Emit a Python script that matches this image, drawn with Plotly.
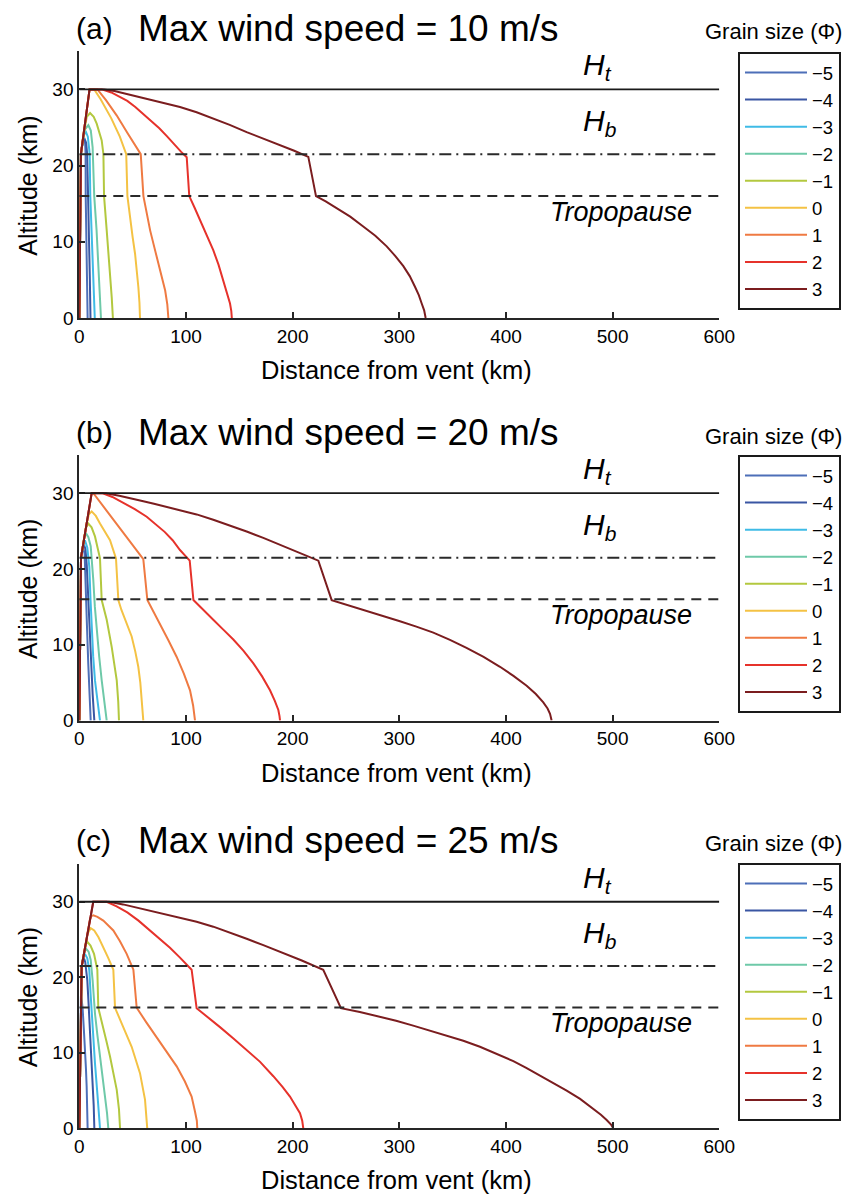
import plotly.graph_objects as go

# ---------------- data ----------------
GRAIN_SIZES = ["\u22125", "\u22124", "\u22123", "\u22122", "\u22121", "0", "1", "2", "3"]
COLORS = ["#4d6fb8", "#3a56a3", "#3fbbe6", "#6ec9a8", "#b3c83f", "#f4c244", "#ef7a42", "#e6322b", "#7b1d1f"]
PANEL_LABELS = ["(a)", "(b)", "(c)"]
WIND_SPEEDS = [10, 20, 25]
H_T = 30.0          # top of umbrella cloud (km)
H_B = 21.5          # bottom of umbrella cloud (km)
TROPOPAUSE = 16.0   # km
X_TICKS = [0, 100, 200, 300, 400, 500, 600]
Y_TICKS = [0, 10, 20, 30]

# Panel (a): max wind speed 10 m/s  -- one list per grain size
A_X = [
    [0, 0.5, 1.0, 1.5, 2.4, 3.4, 4.4, 5.5, 5.9, 6.0, 6.9, 7.4, 7.8],
    [0, 0.5, 1.0, 1.5, 2.5, 3.6, 5.0, 6.4, 7.4, 8.0, 9.1, 9.9, 10.5],
    [0, 0.5, 1.0, 1.5, 3.0, 4.5, 6.3, 8.0, 9.4, 9.8, 10.3, 12.0, 13.5, 14.5],
    [0, 0.5, 1.0, 1.5, 3.5, 5.5, 8.5, 10.8, 12.5, 13.3, 14.0, 16.2, 17.5, 18.7, 20.3],
    [0, 0.5, 1.0, 1.5, 4.5, 7.0, 10.1, 13.5, 16.3, 19.0, 21.0, 22.6, 23.2, 25.7, 28.2, 30.4, 31.5],
    [0, 0.5, 1.0, 1.5, 9.6, 14.0, 20.0, 30.0, 38.0, 44.0, 45.1, 47.6, 50.0, 52.3, 54.0, 55.4, 56.4, 56.9],
    [0, 0.5, 1.0, 1.5, 9.6, 17.0, 25.0, 35.0, 45.0, 52.0, 57.6, 60.1, 63.0, 66.4, 70.3, 74.2, 77.5, 80.5,
     82.5, 83.5],
    [0, 0.5, 1.0, 1.5, 9.6, 21.0, 30.0, 37.5, 45.0, 52.5, 60.0, 67.5, 75.0, 82.5, 90.0, 95.5, 100.7, 103.1,
     108.0, 113.2, 119.5, 125.6, 130.5, 135.0, 138.5, 141.3, 142.5, 143.0],
    [0, 0.5, 1.0, 1.5, 9.6, 23.0, 33.0, 44.4, 57.0, 70.0, 82.0, 94.4, 110.0, 125.6, 141.0, 156.9, 172.5,
     188.2, 201.5, 214.7, 221.9, 231.0, 241.3, 254.0, 266.2, 277.5, 288.2, 296.5, 303.8, 309.8, 314.7,
     318.3, 321.0, 323.3, 324.7],
]
A_Y = [
    [0, 8, 16, 21.5, 22.4, 23.1, 23.3, 22.9, 21.5, 16, 10, 5, 0],
    [0, 8, 16, 21.5, 22.5, 23.3, 23.5, 23.0, 21.5, 16, 10, 5, 0],
    [0, 8, 16, 21.5, 23.0, 24.1, 24.4, 23.8, 22.0, 21.0, 16, 10, 5, 0],
    [0, 8, 16, 21.5, 23.5, 24.8, 25.3, 24.6, 22.4, 19.0, 16.0, 11.5, 8.0, 4.9, 0],
    [0, 8, 16, 21.5, 24.5, 26.4, 26.9, 26.4, 25.5, 24.3, 23.3, 21.5, 16, 11.5, 7.1, 2.7, 0],
    [0, 8, 16, 21.5, 30, 30, 28.7, 26.2, 23.8, 21.5, 16, 12.8, 10.6, 8.4, 6.2, 4.0, 2.0, 0],
    [0, 8, 16, 21.5, 30, 30, 28.6, 26.6, 24.3, 22.8, 21.5, 16, 13.8, 11.5, 9.3, 7.1, 5.3, 3.6, 1.8, 0],
    [0, 8, 16, 21.5, 30, 30, 29.6, 29.1, 28.5, 27.7, 26.8, 25.9, 24.9, 23.8, 22.6, 21.8, 21.1, 16,
     14.5, 12.8, 10.9, 8.9, 7.0, 4.95, 3.3, 1.9, 0.9, 0],
    [0, 8, 16, 21.5, 30, 30, 29.8, 29.4, 29.0, 28.55, 28.15, 27.7, 27.0, 26.2, 25.35, 24.4, 23.55,
     22.7, 21.95, 21.15, 16, 15.3, 14.4, 13.3, 12.0, 10.8, 9.4, 8.1, 6.8, 5.5, 4.1,
     3.0, 1.9, 1.0, 0],
]

# Panel (b): max wind speed 20 m/s
B_X = [
    [0, 0.5, 1.0, 1.6, 2.4, 3.75, 5.0, 5.6, 6.3, 7.3, 8.4, 9.6, 10.7],
    [0, 0.5, 1.0, 1.6, 2.6, 3.4, 4.4, 5.8, 7.0, 8.4, 9.5, 10.7, 12.5, 14.1],
    [0, 0.5, 1.0, 1.6, 3.0, 5.3, 7.5, 9.4, 10.5, 11.6, 13.0, 14.7, 17.0, 19.4],
    [0, 0.5, 1.0, 1.6, 3.4, 4.6, 6.3, 8.5, 10.7, 12.0, 13.1, 14.6, 16.3, 18.6, 21.0, 23.5, 25.7],
    [0, 0.5, 1.0, 1.6, 4.5, 6.2, 8.4, 11.5, 14.7, 17.5, 19.4, 21.0, 25.7, 30.4, 35.1, 36.5, 37.2],
    [0, 0.5, 1.0, 1.6, 6.5, 9.0, 11.6, 15.5, 19.4, 24.0, 28.8, 34.4, 36.6, 39.5, 42.8, 46.0, 49.1, 52.5,
     55.3, 57.2, 58.5, 59.5, 60.0],
    [0, 0.5, 1.0, 1.6, 11.6, 13.2, 25.0, 37.0, 48.0, 60.0, 63.8, 69.5, 75.6, 83.5, 91.3, 98.0, 103.8,
     106.7, 108.5],
    [0, 0.5, 1.0, 1.6, 11.6, 22.0, 31.0, 40.0, 52.0, 63.2, 72.0, 80.0, 87.5, 94.4, 99.0, 103.5, 107.0,
     116.0, 125.6, 135.0, 144.4, 154.0, 163.2, 171.5, 178.8, 183.3, 186.6, 187.7, 188.2],
    [0, 0.5, 1.0, 1.6, 11.6, 25.0, 37.5, 50.0, 60.0, 70.0, 82.0, 94.4, 110.0, 125.6, 141.0, 156.9, 172.5,
     188.1, 206.0, 224.1, 236.6, 253.0, 269.4, 285.0, 300.6, 316.0, 331.9, 347.5, 363.0, 379.0, 394.4,
     407.0, 419.4, 428.0, 435.0, 439.0, 441.3, 442.8],
]
B_Y = [
    [0, 8, 16, 21.5, 22.2, 22.7, 22.0, 20.0, 16.3, 12, 7.55, 3.5, 0],
    [0, 8, 16, 21.5, 22.4, 23.0, 23.2, 22.6, 20.5, 16.3, 12, 7.55, 3.5, 0],
    [0, 8, 16, 21.5, 22.7, 23.8, 22.8, 20.3, 16, 12, 8.5, 5.3, 2.5, 0],
    [0, 8, 16, 21.5, 23.0, 24.2, 24.7, 24.2, 23.0, 21.0, 18.6, 15, 12, 8.5, 5.3, 2.5, 0],
    [0, 8, 16, 21.5, 24.0, 25.4, 26.0, 25.5, 24.3, 22.7, 21.4, 15.9, 13.3, 9.7, 5.3, 2.5, 0],
    [0, 8, 16, 21.5, 25.8, 27.2, 27.6, 27.0, 26.0, 25.0, 23.8, 21.4, 15.9, 14.6, 13.3, 12.3, 11.1, 9.1,
     7.1, 5.0, 3.1, 1.5, 0],
    [0, 8, 16, 21.5, 30, 30, 27.8, 25.6, 23.6, 21.3, 15.9, 14.4, 12.8, 10.6, 8.4, 6.2, 4.0, 2.0, 0],
    [0, 8, 16, 21.5, 30, 30, 29.5, 28.8, 27.9, 26.9, 25.9, 24.9, 23.8, 22.5, 21.8, 21.1, 15.9,
     14.6, 13.3, 12.0, 10.7, 9.2, 7.55, 5.8, 4.0, 2.6, 1.4, 0.6, 0],
    [0, 8, 16, 21.5, 30, 30, 29.65, 29.3, 28.95, 28.6, 28.2, 27.8, 27.2, 26.5, 25.75, 24.95, 24.1,
     23.2, 22.2, 21.1, 15.9, 15.2, 14.5, 13.8, 13.1, 12.4, 11.6, 10.65, 9.6, 8.4, 7.1,
     5.9, 4.6, 3.5, 2.4, 1.6, 0.9, 0],
]

# Panel (c): max wind speed 25 m/s
C_X = [
    [0, 0.6, 1.2, 1.5, 2.4, 3.2, 4.3, 5.3, 6.2, 6.9, 7.5, 7.8],
    [0, 0.6, 1.2, 2.2, 3.2, 4.4, 5.6, 6.5, 7.5, 8.7, 10.0, 11.3, 12.5, 13.5, 14.1],
    [0, 0.6, 1.2, 2.2, 3.4, 5.3, 7.5, 9.4, 10.5, 11.6, 13.1, 14.7, 17.0, 19.4],
    [0, 0.6, 1.2, 2.2, 4.0, 6.3, 8.7, 10.7, 12.5, 14.7, 17.0, 19.4, 21.8, 24.1, 26.0, 27.2],
    [0, 0.6, 1.2, 2.2, 4.6, 6.0, 7.5, 10.5, 13.8, 16.9, 17.8, 22.5, 25.5, 28.8, 32.0, 35.1, 37.2, 38.2],
    [0, 0.6, 1.2, 2.2, 5.5, 7.8, 10.7, 14.0, 18.0, 22.5, 27.0, 31.9, 33.5, 41.2, 49.1, 56.9, 61.6, 63.7],
    [0, 0.6, 1.2, 2.2, 9.9, 11.3, 13.1, 17.0, 22.5, 31.9, 38.0, 44.4, 50.7, 53.8, 63.0, 72.5, 82.0, 91.3,
     99.0, 105.3, 108.5, 110.2, 110.6],
    [0, 0.6, 1.2, 2.2, 13.1, 25.7, 35.0, 45.0, 55.5, 66.3, 76.0, 85.0, 94.4, 100.0, 105.3, 110.0, 121.0,
     131.9, 144.5, 156.9, 169.5, 181.9, 190.5, 197.5, 202.5, 206.9, 209.0, 210.0],
    [0, 0.6, 1.2, 2.2, 13.1, 28.0, 41.0, 55.0, 75.0, 94.4, 110.0, 125.6, 141.0, 156.9, 172.5, 188.1, 208.0,
     228.7, 245.3, 263.0, 281.8, 297.0, 313.0, 328.5, 344.0, 360.0, 375.6, 391.0, 406.9, 419.0, 431.9,
     444.5, 456.9, 469.5, 481.9, 489.0, 494.4, 498.5, 500.6],
]
C_Y = [
    [0, 8, 16, 17.5, 16.8, 15.7, 13.0, 10.8, 8.0, 5.5, 2.5, 0],
    [0, 8, 16, 21.4, 22.2, 22.5, 22.0, 21.0, 19.6, 16.5, 13.0, 9.5, 6.4, 3.0, 0],
    [0, 8, 16, 21.4, 22.4, 23.1, 22.5, 20.9, 18.0, 15.2, 12.0, 8.6, 4.5, 0],
    [0, 8, 16, 21.4, 23.0, 23.8, 23.4, 22.3, 19.6, 15.2, 12.3, 9.5, 7.0, 4.65, 2.0, 0],
    [0, 8, 16, 21.4, 23.3, 24.3, 24.7, 24.2, 23.1, 21.0, 15.96, 13.4, 11.5, 9.5, 7.3, 5.1, 2.5, 0],
    [0, 8, 16, 21.4, 24.0, 25.8, 26.5, 26.2, 25.3, 24.0, 22.6, 21.0, 15.96, 13.4, 10.8, 7.3, 3.8, 0],
    [0, 8, 16, 21.4, 27.6, 28.1, 28.2, 28.0, 27.5, 26.2, 24.8, 23.1, 21.0, 15.96, 14.0, 12.1, 10.2, 8.2,
     6.2, 4.2, 2.2, 1.0, 0],
    [0, 8, 16, 21.4, 30, 30, 29.4, 28.6, 27.5, 26.2, 25.1, 23.9, 22.6, 21.8, 21.0, 15.9, 14.7,
     13.4, 11.9, 10.4, 8.8, 6.9, 5.5, 4.2, 3.1, 2.0, 1.0, 0],
    [0, 8, 16, 21.4, 30, 30, 29.65, 29.2, 28.55, 27.9, 27.35, 26.7, 25.95, 25.1, 24.25, 23.4, 22.25,
     21.0, 15.9, 15.4, 14.8, 14.25, 13.6, 12.95, 12.3, 11.6, 10.8, 9.9, 8.9, 8.0, 7.0,
     6.0, 5.0, 3.9, 2.6, 1.8, 1.1, 0.5, 0],
]

PANEL_X = [A_X, B_X, C_X]
PANEL_Y = [A_Y, B_Y, C_Y]

# ---------------- layout helpers ----------------
W, H = 856, 1204
FONT = "Liberation Sans, Arial, Helvetica, sans-serif"
X_LEFT, X_RIGHT = 79.3, 719.3
X_DOMAIN = [X_LEFT / W, X_RIGHT / W]
PANEL_PX = [(51.3, 318.0), (455.3, 720.6), (864.0, 1128.3)]   # (top, bottom) of each frame
TITLE_PX = [28, 433, 840]
LEGEND_TOP_PX = [52, 455, 863]


def py(px):
    return 1 - px / H


def pxr(px):
    return px / W


fig = go.Figure()
layout = dict(
    width=W, height=H, margin=dict(l=0, r=0, t=0, b=0, autoexpand=False),
    paper_bgcolor="white", plot_bgcolor="white",
    font=dict(family=FONT, color="black", size=19),
    showlegend=True,
)
annotations = []
shapes = []

for p in range(3):
    sfx = "" if p == 0 else str(p + 1)
    xa, ya = "x" + sfx, "y" + sfx
    leg = "legend" + sfx
    for g in range(len(GRAIN_SIZES)):
        fig.add_trace(go.Scatter(
            x=PANEL_X[p][g], y=PANEL_Y[p][g], mode="lines",
            line=dict(color=COLORS[g], width=2),
            name=GRAIN_SIZES[g], xaxis=xa, yaxis=ya, legend=leg,
            hoverinfo="skip",
        ))
    top, bot = PANEL_PX[p]
    axis_common = dict(showgrid=False, zeroline=False, showline=True, linecolor="#262626", linewidth=2,
                       ticks="inside", ticklen=6, tickwidth=1.5, tickcolor="#262626", automargin=False,
                       tickfont=dict(size=19, family=FONT, color="black"), mirror=False)
    layout["xaxis" + sfx] = dict(axis_common, domain=X_DOMAIN, range=[0, 600], tickvals=X_TICKS, anchor=ya)
    layout["yaxis" + sfx] = dict(axis_common, domain=[py(bot), py(top)], range=[0, 35], tickvals=Y_TICKS,
                                 anchor=xa)
    layout[leg] = dict(
        x=pxr(738), y=py(LEGEND_TOP_PX[p]), xanchor="left", yanchor="top",
        bordercolor="#1a1a1a", borderwidth=2, bgcolor="white",
        font=dict(size=18.5, family=FONT, color="black"), itemwidth=62, traceorder="normal",
    )
    # reference levels
    shapes.append(dict(type="line", xref=xa, yref=ya, x0=0, x1=600, y0=H_T, y1=H_T,
                       line=dict(color="#1a1a1a", width=1.8)))
    shapes.append(dict(type="line", xref=xa, yref=ya, x0=0, x1=600, y0=H_B, y1=H_B,
                       line=dict(color="#2a2a2a", width=2, dash="12px,5px,2px,5px")))
    shapes.append(dict(type="line", xref=xa, yref=ya, x0=0, x1=600, y0=TROPOPAUSE, y1=TROPOPAUSE,
                       line=dict(color="#2a2a2a", width=2, dash="10px,7px")))
    annotations.append(dict(xref=xa, yref=ya, x=470, y=33.0, xanchor="left", yanchor="middle",
                            text="<i>H</i><sub><i>t</i></sub>", showarrow=False,
                            font=dict(size=30, family=FONT)))
    annotations.append(dict(xref=xa, yref=ya, x=470, y=25.6, xanchor="left", yanchor="middle",
                            text="<i>H</i><sub><i>b</i></sub>", showarrow=False,
                            font=dict(size=30, family=FONT)))
    annotations.append(dict(xref=xa, yref=ya, x=576, y=13.9, xanchor="right", yanchor="middle",
                            text="<i>Tropopause</i>", showarrow=False,
                            font=dict(size=27, family=FONT)))
    # axis titles
    annotations.append(dict(xref="paper", yref="paper", x=pxr(396), y=py(bot + 52),
                            xanchor="center", yanchor="middle", text="Distance from vent (km)",
                            showarrow=False, font=dict(size=25.5, family=FONT)))
    annotations.append(dict(xref="paper", yref="paper", x=pxr(28), y=py((top + bot) / 2 + 1),
                            xanchor="center", yanchor="middle", text="Altitude (km)", textangle=-90,
                            showarrow=False, font=dict(size=25, family=FONT)))
    # panel titles
    annotations.append(dict(xref="paper", yref="paper", x=pxr(74), y=py(TITLE_PX[p]),
                            xanchor="left", yanchor="middle", text=PANEL_LABELS[p], showarrow=False,
                            font=dict(size=30, family=FONT)))
    annotations.append(dict(xref="paper", yref="paper", x=pxr(136), y=py(TITLE_PX[p]),
                            xanchor="left", yanchor="middle",
                            text=f"Max wind speed = {WIND_SPEEDS[p]} m/s", showarrow=False,
                            font=dict(size=37, family=FONT)))
    # legend title
    annotations.append(dict(xref="paper", yref="paper", x=pxr(844), y=py(TITLE_PX[p] + 3),
                            xanchor="right", yanchor="middle", text="Grain size (\u03a6)",
                            showarrow=False, font=dict(size=22, family=FONT)))

layout["annotations"] = annotations
layout["shapes"] = shapes
fig.update_layout(**layout)
fig.write_html("out.html", config={"displayModeBar": False},
               post_script="document.body.style.margin='0px';document.body.style.padding='0px';")
